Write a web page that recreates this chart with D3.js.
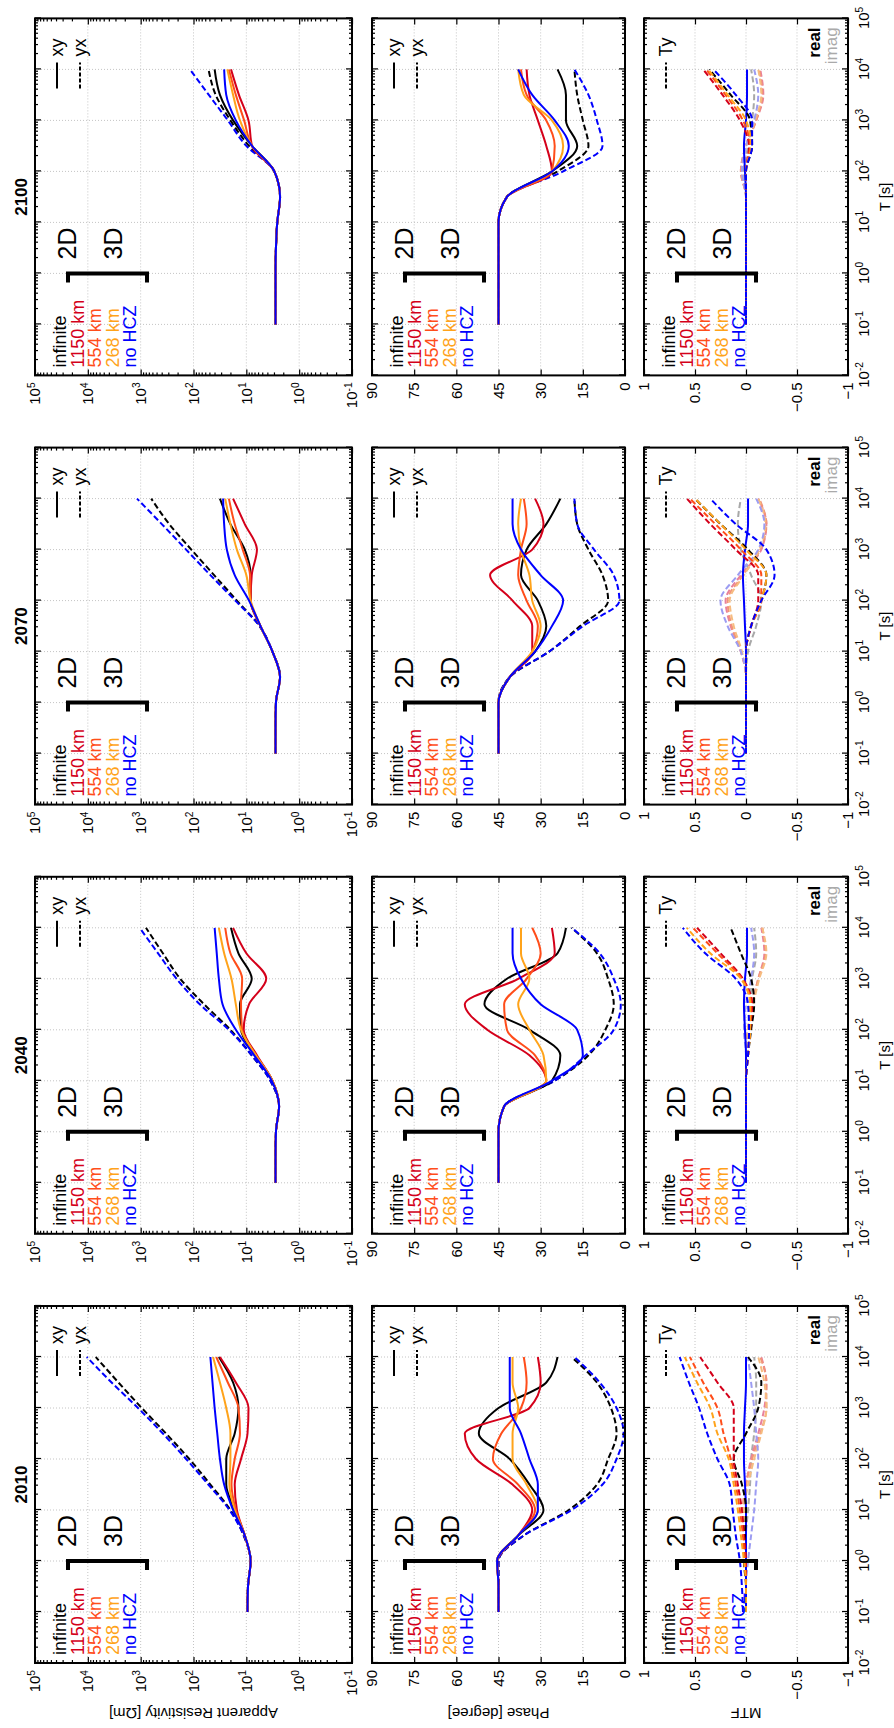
<!DOCTYPE html>
<html>
<head>
<meta charset="utf-8">
<script src="https://cdn.jsdelivr.net/npm/d3@7"></script>
<style>
  body { margin: 0; background: #fff; }
  text { font-family: Arial, "Liberation Sans", Helvetica, sans-serif; }
</style>
</head>
<body>
<div id="chart"></div>
<script>
// periods sampled on each curve (s)
const periods = [0.1, 0.316, 1, 3.16, 10, 31.6, 100, 316, 1000, 3162, 10000];
const years = ["2010", "2040", "2070", "2100"];
const models = ["infinite", "1150 km", "554 km", "268 km", "no HCZ"];
const lineColors = ["#000000", "#d4001a", "#ff4d1a", "#ffa31a", "#0000ff"];
const imagColors = ["#a8a8a8", "#e8809c", "#f29478", "#f6bc80", "#9c9cf2"];
const yxModels = [0, 4]; // yx curves that stay visible (the others lie below them)

const periodTicks = [0.01, 0.1, 1, 10, 100, 1000, 10000, 100000];
const rhoTicks = [0.1, 1, 10, 100, 1000, 10000, 100000];
const phaseTicks = [0, 15, 30, 45, 60, 75, 90];
const mtfTicks = [-1, -0.5, 0, 0.5, 1];

// apparent resistivity (Ohm m), order: infinite, 1150 km, 554 km, 268 km, no HCZ
const rhoXY2010 = [
  [9.5, 9.3, 8.3, 10.7, 16.6, 24, 24, 16.6, 14.1, 17.8, 33.1],
  [9.5, 9.3, 8.3, 10.7, 15.1, 16.6, 12.6, 9.5, 9.1, 15.8, 31.6],
  [9.5, 9.3, 8.3, 10.7, 15.8, 19.1, 16.6, 13.2, 14.1, 22.4, 37.2],
  [9.5, 9.3, 8.3, 10.7, 16.6, 20.9, 20, 20, 24, 31.6, 42.7],
  [9.5, 9.3, 8.3, 10.7, 17.8, 26.3, 31.6, 35.5, 39.8, 43.7, 47.9]
];
const rhoYX2010 = [
  [9.5, 9.3, 8.3, 11.2, 20, 47.9, 120, 331, 955, 2630, 7079],
  [9.5, 9.3, 8.3, 11.2, 20.9, 52.5, 138, 380, 1122, 3548, 10470]
];
const rhoXY2040 = [
  [2.8, 2.8, 2.75, 2.4, 3.2, 6.6, 12.6, 13.2, 7.9, 14.1, 19.5],
  [2.8, 2.8, 2.75, 2.4, 3.2, 6.3, 11.2, 8.9, 4.2, 10, 17.8],
  [2.8, 2.8, 2.75, 2.4, 3.2, 6.6, 12, 12.6, 12, 20, 25.1],
  [2.8, 2.8, 2.75, 2.4, 3.2, 6.6, 12.6, 15.8, 19.1, 26.3, 33.1],
  [2.8, 2.8, 2.75, 2.4, 3.3, 7.1, 15.8, 28.2, 33.1, 36.3, 39.8]
];
const rhoYX2040 = [
  [2.8, 2.8, 2.75, 2.4, 3.5, 7.9, 20, 63, 178, 380, 794],
  [2.8, 2.8, 2.75, 2.4, 3.5, 7.9, 21.4, 75.9, 209, 468, 1047]
];
const rhoXY2070 = [
  [2.8, 2.8, 2.75, 2.3, 3.2, 5.4, 8.3, 8.3, 10.7, 20, 31.6],
  [2.8, 2.8, 2.75, 2.3, 3.2, 5.4, 8.3, 7.9, 6.3, 10.7, 17.8],
  [2.8, 2.8, 2.75, 2.3, 3.2, 5.4, 8.3, 8.5, 11.7, 16.6, 21.4],
  [2.8, 2.8, 2.75, 2.3, 3.2, 5.4, 8.3, 10, 15.1, 20, 25.1],
  [2.8, 2.8, 2.75, 2.3, 3.2, 5.4, 8.9, 16.6, 23.4, 26.3, 27.5]
];
const rhoYX2070 = [
  [2.8, 2.8, 2.75, 2.3, 3.2, 5.6, 15.1, 40.7, 110, 288, 631],
  [2.8, 2.8, 2.75, 2.3, 3.2, 5.6, 16.2, 47.9, 138, 398, 1175]
];
const rhoXY2100 = [
  [2.8, 2.8, 2.8, 2.75, 2.6, 2.3, 2.95, 7.8, 17.8, 31.6, 39.8],
  [2.8, 2.8, 2.8, 2.75, 2.6, 2.3, 2.95, 7.8, 9.1, 13.8, 19.5],
  [2.8, 2.8, 2.8, 2.75, 2.6, 2.3, 2.95, 7.8, 11, 15.8, 21.4],
  [2.8, 2.8, 2.8, 2.75, 2.6, 2.3, 2.95, 7.8, 13.2, 17.8, 22.9],
  [2.8, 2.8, 2.8, 2.75, 2.6, 2.3, 2.95, 7.8, 15.8, 24, 26.3]
];
const rhoYX2100 = [
  [2.8, 2.8, 2.8, 2.75, 2.6, 2.3, 2.95, 8.9, 20, 38, 52],
  [2.8, 2.8, 2.8, 2.75, 2.6, 2.3, 2.95, 10, 22.4, 51.3, 117]
];

// phase (degree)
const phaseXY2010 = [
  [45, 45, 45.5, 38, 29, 34, 41, 52, 45, 28, 24],
  [45, 45, 45.5, 38, 33, 40, 53, 57, 34, 30, 31],
  [45, 45, 45.5, 38, 32, 38, 47, 44, 37, 35, 36],
  [45, 45, 45.5, 38, 31, 35, 40, 40, 38, 40, 40],
  [45, 45, 45.5, 38, 31, 31, 34, 37, 41, 41, 41]
];
const phaseYX2010 = [
  [45, 45, 45, 36, 20, 10, 6, 3, 5, 10, 19],
  [45, 45, 45, 36, 19, 8, 3, 0.5, 3, 9, 18]
];
const phaseXY2040 = [
  [45, 45, 45, 43, 26, 23, 34, 50, 42, 24, 21],
  [45, 45, 45, 43, 28, 34, 49, 57, 38, 25, 26],
  [45, 45, 45, 43, 28, 32, 42, 43, 35, 30, 33],
  [45, 45, 45, 43, 28, 29, 34, 38, 34, 37, 37],
  [45, 45, 45, 43, 26, 15, 17, 30, 37, 40, 40]
];
const phaseYX2040 = [
  [45, 45, 45, 43, 25, 13, 7, 4, 6, 10, 19],
  [45, 45, 45, 43, 25, 14, 4, 1.5, 4, 9, 19]
];
const phaseXY2070 = [
  [45, 45, 45, 41, 32, 28, 31, 37, 35, 28, 23],
  [45, 45, 45, 41, 33, 33, 40, 48, 33, 29, 32],
  [45, 45, 45, 41, 33, 31, 35, 38, 37, 35, 36],
  [45, 45, 45, 41, 33, 30, 33, 34, 37, 38, 37],
  [45, 45, 45, 41, 32, 26, 22, 30, 37, 40, 40]
];
const phaseYX2070 = [
  [45, 45, 45, 41, 27, 16, 6, 8, 13, 17, 18],
  [45, 45, 45, 41, 27, 15, 2, 4, 11, 17, 18]
];
const phaseXY2100 = [
  [45, 45, 45, 45, 45, 42, 26, 17, 21, 21, 24],
  [45, 45, 45, 45, 45, 42, 26, 28, 31, 34, 35],
  [45, 45, 45, 45, 45, 42, 26, 25, 28, 35, 37],
  [45, 45, 45, 45, 45, 42, 26, 22, 26, 36, 38],
  [45, 45, 45, 45, 45, 42, 26, 20, 25, 33, 38]
];
const phaseYX2100 = [
  [45, 45, 45, 45, 45, 42, 24, 13, 15, 17, 18],
  [45, 45, 45, 45, 45, 42, 22, 8, 10, 13, 18]
];

// tipper Ty, real and imaginary parts
const tyReal2010 = [
  [0, 0, 0.02, 0.01, 0, 0.04, 0.12, 0, -0.12, -0.15, -0.02],
  [0, 0, 0, 0.02, 0.04, 0.08, 0.12, 0.12, 0.12, 0.28, 0.45],
  [0, 0, 0.01, 0.03, 0.06, 0.1, 0.15, 0.22, 0.28, 0.42, 0.55],
  [0, 0, 0.02, 0.05, 0.08, 0.12, 0.17, 0.28, 0.35, 0.48, 0.6],
  [0.03, 0.04, 0.06, 0.1, 0.13, 0.16, 0.28, 0.38, 0.46, 0.56, 0.65]
];
const tyImag2010 = [
  [0, 0, 0, 0, -0.02, -0.04, -0.05, -0.08, -0.1, -0.1, -0.08],
  [0, 0, 0, 0.02, 0.03, 0, -0.05, -0.12, -0.18, -0.2, -0.15],
  [0, 0, 0, 0.02, 0.03, 0, -0.06, -0.14, -0.2, -0.2, -0.14],
  [0, 0, 0, 0.02, 0.02, -0.02, -0.08, -0.15, -0.2, -0.18, -0.12],
  [0, 0, -0.02, -0.05, -0.08, -0.1, -0.12, -0.1, -0.08, -0.05, -0.02]
];
const tyReal2040 = [
  [0, 0, 0, 0, 0, -0.02, -0.05, -0.08, -0.05, 0.05, 0.15],
  [0, 0, 0, 0, 0, -0.02, -0.04, -0.06, 0.03, 0.25, 0.48],
  [0, 0, 0, 0, 0, -0.02, -0.04, -0.05, 0.04, 0.28, 0.52],
  [0, 0, 0, 0, 0, -0.02, -0.04, -0.04, 0.05, 0.35, 0.58],
  [0, 0, 0, 0, 0, -0.02, -0.03, -0.02, 0.1, 0.4, 0.62]
];
const tyImag2040 = [
  [0, 0, 0, 0, 0, 0, -0.02, -0.04, -0.06, -0.1, -0.08],
  [0, 0, 0, 0, 0, 0, -0.02, -0.06, -0.12, -0.18, -0.15],
  [0, 0, 0, 0, 0, 0, -0.02, -0.06, -0.12, -0.19, -0.16],
  [0, 0, 0, 0, 0, 0, -0.02, -0.07, -0.13, -0.2, -0.16],
  [0, 0, 0, 0, 0, 0, 0.02, 0, -0.05, -0.08, -0.05]
];
const tyReal2070 = [
  [0, 0, 0, 0, 0, -0.05, -0.15, -0.2, -0.02, 0.25, 0.5],
  [0, 0, 0, 0, 0, -0.05, -0.12, -0.12, 0.1, 0.35, 0.58],
  [0, 0, 0, 0, 0, -0.05, -0.15, -0.15, 0.05, 0.3, 0.55],
  [0, 0, 0, 0, 0, -0.05, -0.15, -0.2, 0, 0.25, 0.5],
  [0, 0, 0, 0, 0, -0.05, -0.15, -0.28, -0.2, 0.1, 0.35]
];
const tyImag2070 = [
  [0, 0, 0, 0, -0.02, -0.1, -0.15, -0.05, 0.05, 0.08, 0.05],
  [0, 0, 0, 0, 0.05, 0.15, 0.2, 0.05, -0.15, -0.2, -0.12],
  [0, 0, 0, 0, 0.05, 0.14, 0.18, 0.03, -0.14, -0.2, -0.13],
  [0, 0, 0, 0, 0.04, 0.12, 0.16, 0.02, -0.13, -0.19, -0.12],
  [0, 0, 0, 0, 0.05, 0.18, 0.25, 0.08, -0.12, -0.18, -0.1]
];
const tyReal2100 = [
  [0, 0, 0, 0, 0, 0, 0, -0.06, -0.04, 0.15, 0.36],
  [0, 0, 0, 0, 0, 0, 0, -0.03, 0.06, 0.23, 0.42],
  [0, 0, 0, 0, 0, 0, 0, -0.04, 0.03, 0.2, 0.39],
  [0, 0, 0, 0, 0, 0, 0, -0.05, 0, 0.18, 0.37],
  [0, 0, 0, 0, 0, 0, 0, -0.06, -0.06, 0.1, 0.32]
];
const tyImag2100 = [
  [0, 0, 0, 0, 0, 0, 0.02, -0.02, -0.06, -0.08, -0.05],
  [0, 0, 0, 0, 0, 0, 0.05, 0, -0.1, -0.17, -0.14],
  [0, 0, 0, 0, 0, 0, 0.05, 0, -0.1, -0.16, -0.13],
  [0, 0, 0, 0, 0, 0, 0.04, 0, -0.09, -0.15, -0.12],
  [0, 0, 0, 0, 0, 0, 0.04, 0, -0.08, -0.12, -0.08]
];
// Tx (real) of the no HCZ model, solid near zero
const txReal2010 = [0, 0, 0, 0, 0, 0.01, 0.02, 0.02, 0.01, 0, 0];
const txReal2040 = [0, 0, 0, 0, 0, 0, 0.01, 0.02, 0.01, -0.01, -0.01];
const txReal2070 = [0, 0, 0, 0, 0, 0.01, 0.02, 0.03, 0.01, -0.02, -0.02];
const txReal2100 = [0, 0, 0, 0, 0, 0, 0.01, 0.02, 0, -0.01, -0.01];

const rhoXY = [rhoXY2010, rhoXY2040, rhoXY2070, rhoXY2100];
const rhoYX = [rhoYX2010, rhoYX2040, rhoYX2070, rhoYX2100];
const phaseXY = [phaseXY2010, phaseXY2040, phaseXY2070, phaseXY2100];
const phaseYX = [phaseYX2010, phaseYX2040, phaseYX2070, phaseYX2100];
const tyReal = [tyReal2010, tyReal2040, tyReal2070, tyReal2100];
const tyImag = [tyImag2010, tyImag2040, tyImag2070, tyImag2100];
const txReal = [txReal2010, txReal2040, txReal2070, txReal2100];

//------------------------------------------------------------------ layout
// the figure is laid out landscape (1728 x 894) and then turned onto the page
const colLeft = 65, colStep = 429.2, colWidth = 357;
const rowRho = [352, 35], rowPhase = [625, 372], rowMtf = [848, 644];
const dash = "6,3";

const svg = d3.select("#chart").append("svg")
  .attr("width", 894)
  .attr("height", 1728);

const fig = svg.append("g")
  .attr("transform", "translate(0,1728) rotate(-90)");

function minorLog(lo, hi) {
  let out = [];
  for (let e = lo; e < hi; e++) {
    for (let m = 2; m <= 9; m++) out.push(m * Math.pow(10, e));
  }
  return out;
}

function powLabels(sel) {
  sel.selectAll(".tick text").each(function(d) {
    const t = d3.select(this).text("10");
    t.append("tspan")
      .attr("dy", "-0.55em")
      .attr("font-size", "0.68em")
      .text(Math.round(Math.log10(d)));
  });
}

let drawPanel = (g, x, y, yTicks, yMinor, yFormat, showX) => {
  const [xa, xb] = x.range();
  const [yb, ya] = y.range();

  // dotted grid
  const grid = g.append("g").attr("stroke", "#c4c4c4").attr("stroke-dasharray", "1,2").attr("stroke-width", 1);
  grid.selectAll("line.gx")
    .data(periodTicks.slice(1, -1))
    .enter().append("line")
    .attr("x1", d => x(d)).attr("x2", d => x(d))
    .attr("y1", ya).attr("y2", yb);
  grid.selectAll("line.gy")
    .data(yTicks.slice(1, -1))
    .enter().append("line")
    .attr("x1", xa).attr("x2", xb)
    .attr("y1", d => y(d)).attr("y2", d => y(d));

  const clean = a => a.call(s => s.select(".domain").remove())
    .attr("font-size", 15)
    .attr("font-family", "Arial, 'Liberation Sans', sans-serif")
    .attr("stroke-width", 1.2);

  // ticks on all four sides, pointing inwards
  const bottom = g.append("g").attr("transform", "translate(0," + yb + ")")
    .call(d3.axisBottom(x).tickValues(periodTicks).tickSize(-6).tickPadding(10)
      .tickFormat(showX ? null : () => ""));
  clean(bottom);
  if (showX) powLabels(bottom);
  g.append("g").attr("transform", "translate(0," + yb + ")")
    .call(d3.axisBottom(x).tickValues(minorLog(-2, 5)).tickSize(-3).tickFormat(() => ""))
    .call(clean);
  g.append("g").attr("transform", "translate(0," + ya + ")")
    .call(d3.axisTop(x).tickValues(periodTicks).tickSize(-6).tickFormat(() => ""))
    .call(clean);
  g.append("g").attr("transform", "translate(0," + ya + ")")
    .call(d3.axisTop(x).tickValues(minorLog(-2, 5)).tickSize(-3).tickFormat(() => ""))
    .call(clean);

  const left = g.append("g").attr("transform", "translate(" + xa + ",0)")
    .call(d3.axisLeft(y).tickValues(yTicks).tickSize(-6).tickPadding(7)
      .tickFormat(yFormat === "pow" ? null : yFormat));
  clean(left);
  if (yFormat === "pow") powLabels(left);
  g.append("g").attr("transform", "translate(" + xb + ",0)")
    .call(d3.axisRight(y).tickValues(yTicks).tickSize(-6).tickFormat(() => ""))
    .call(clean);
  if (yMinor) {
    g.append("g").attr("transform", "translate(" + xa + ",0)")
      .call(d3.axisLeft(y).tickValues(yMinor).tickSize(-3).tickFormat(() => ""))
      .call(clean);
    g.append("g").attr("transform", "translate(" + xb + ",0)")
      .call(d3.axisRight(y).tickValues(yMinor).tickSize(-3).tickFormat(() => ""))
      .call(clean);
  }

  g.append("rect")
    .attr("x", xa).attr("y", ya)
    .attr("width", xb - xa).attr("height", yb - ya)
    .attr("fill", "none").attr("stroke", "#000").attr("stroke-width", 2);
};

let curve = (g, x, y, values, color, dashed, width) => {
  const line = d3.line()
    .x((d, i) => x(periods[i]))
    .y(d => y(d))
    .curve(d3.curveMonotoneX);
  g.append("path")
    .attr("d", line(values))
    .attr("fill", "none")
    .attr("stroke", color)
    .attr("stroke-width", width || 2)
    .attr("stroke-dasharray", dashed ? dash : null)
    .attr("stroke-linejoin", "round");
};

let modelLegend = (g, x, top) => {
  const xa = x.range()[0];
  g.selectAll("text.model")
    .data(models)
    .enter().append("text")
    .attr("x", xa + 8)
    .attr("y", (d, i) => top + 31 + i * 17.5)
    .attr("fill", (d, i) => lineColors[i])
    .attr("font-size", 18)
    .text(d => d);
  const bx = x(1);
  g.append("path")
    .attr("d", "M" + (bx - 9) + "," + (top + 33) + "H" + bx + "V" + (top + 112) + "H" + (bx - 9))
    .attr("fill", "none").attr("stroke", "#000").attr("stroke-width", 4);
  g.append("text").attr("x", bx + 14).attr("y", top + 41).attr("font-size", 25).text("2D");
  g.append("text").attr("x", bx + 14).attr("y", top + 87).attr("font-size", 25).text("3D");
};

let lineLegend = (g, x, top, entries) => {
  const xb = x.range()[1];
  entries.forEach((e, i) => {
    const yy = top + 22 + i * 23;
    g.append("line")
      .attr("x1", xb - 70).attr("x2", xb - 44)
      .attr("y1", yy).attr("y2", yy)
      .attr("stroke", "#000").attr("stroke-width", 2)
      .attr("stroke-dasharray", e.dashed ? "4,2" : null);
    g.append("text").attr("x", xb - 38).attr("y", yy + 6)
      .attr("font-size", 18).text(e.label);
  });
};

//------------------------------------------------------------------ draw
years.forEach((year, c) => {
  const x0 = colLeft + c * colStep;
  const x = d3.scaleLog().domain([0.01, 100000]).range([x0, x0 + colWidth]);
  const yRho = d3.scaleLog().domain([0.1, 100000]).range(rowRho);
  const yPhase = d3.scaleLinear().domain([0, 90]).range(rowPhase);
  const yMtf = d3.scaleLinear().domain([-1, 1]).range(rowMtf);
  const col = fig.append("g");

  // title
  col.append("text")
    .attr("x", x0 + colWidth / 2).attr("y", 27)
    .attr("text-anchor", "middle")
    .attr("font-size", 17).attr("font-weight", "bold")
    .text(year);

  // apparent resistivity
  const gR = col.append("g");
  drawPanel(gR, x, yRho, rhoTicks, minorLog(-1, 5), "pow", false);
  const cR = gR.insert("g", "g:nth-child(2)");
  rhoYX[c].forEach((v, k) => curve(cR, x, yRho, v, lineColors[yxModels[k]], true));
  rhoXY[c].forEach((v, k) => curve(cR, x, yRho, v, lineColors[k], false));
  modelLegend(gR, x, rowRho[1]);
  lineLegend(gR, x, rowRho[1], [{label: "xy", dashed: false}, {label: "yx", dashed: true}]);

  // phase
  const gP = col.append("g");
  drawPanel(gP, x, yPhase, phaseTicks, null, d3.format("d"), false);
  const cP = gP.insert("g", "g:nth-child(2)");
  phaseYX[c].forEach((v, k) => curve(cP, x, yPhase, v, lineColors[yxModels[k]], true));
  phaseXY[c].forEach((v, k) => curve(cP, x, yPhase, v, lineColors[k], false));
  modelLegend(gP, x, rowPhase[1]);
  lineLegend(gP, x, rowPhase[1], [{label: "xy", dashed: false}, {label: "yx", dashed: true}]);

  // tipper
  const gM = col.append("g");
  drawPanel(gM, x, yMtf, mtfTicks, null, d => (d === 0.5 || d === -0.5) ? d3.format(".1f")(d) : d3.format("d")(d), true);
  const cM = gM.insert("g", "g:nth-child(2)");
  tyImag[c].forEach((v, k) => curve(cM, x, yMtf, v, imagColors[k], true));
  curve(cM, x, yMtf, txReal[c], "#0000ff", false, 2);
  tyReal[c].forEach((v, k) => curve(cM, x, yMtf, v, lineColors[k], true));
  modelLegend(gM, x, rowMtf[1]);
  lineLegend(gM, x, rowMtf[1], [{label: "Ty", dashed: true}]);
  gM.append("text")
    .attr("x", x0 + colWidth - 9).attr("y", rowMtf[0] - 28)
    .attr("text-anchor", "end").attr("font-size", 17).attr("font-weight", "bold")
    .text("real");
  gM.append("text")
    .attr("x", x0 + colWidth - 9).attr("y", rowMtf[0] - 11)
    .attr("text-anchor", "end").attr("font-size", 17).attr("fill", "#aaaaaa")
    .text("imag");

  col.append("text")
    .attr("x", x0 + colWidth / 2).attr("y", 890)
    .attr("text-anchor", "middle").attr("font-size", 15)
    .text("T [s]");
});

// y labels on the first column only
[["Apparent Resistivity [\u2126m]", rowRho], ["Phase [degree]", rowPhase], ["MTF", rowMtf]]
  .forEach(([label, row]) => {
    fig.append("text")
      .attr("transform", "translate(20," + ((row[0] + row[1]) / 2) + ") rotate(-90)")
      .attr("text-anchor", "middle")
      .attr("font-size", 15)
      .text(label);
  });
</script>
</body>
</html>
